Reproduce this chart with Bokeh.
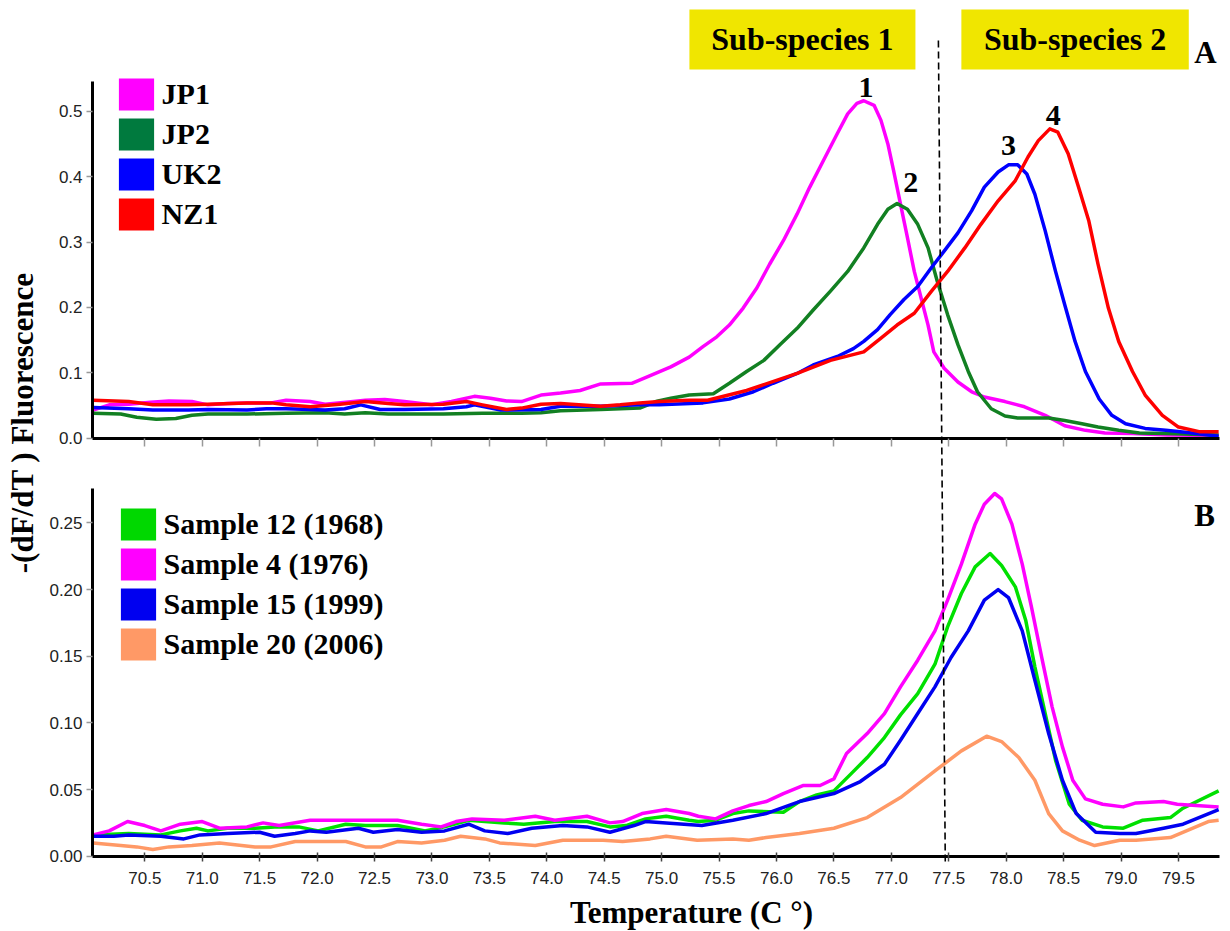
import math
from bokeh.plotting import figure
from bokeh.models import (Range1d, LinearAxis, FixedTicker, PrintfTickFormatter,
                          Legend, LegendItem, Label, BoxAnnotation)
from bokeh.core.properties import value
from bokeh.embed import file_html
from bokeh.resources import INLINE

# ---------------- data ----------------
# Panel A (top)
jp1_T = [70.05, 70.19, 70.36, 70.55, 70.71, 70.91, 71.05, 71.22, 71.39, 71.6, 71.73, 71.94,
         72.07, 72.25, 72.42, 72.59, 72.76, 73.0, 73.17, 73.37, 73.51, 73.65, 73.78, 73.95,
         74.12, 74.29, 74.47, 74.74, 74.88, 75.08, 75.24, 75.36, 75.48, 75.59, 75.71, 75.83, 75.94,
         76.06, 76.18, 76.29, 76.41, 76.53, 76.62, 76.70, 76.76, 76.85, 76.91, 76.97,
         77.02, 77.08, 77.14, 77.20, 77.26, 77.32, 77.37, 77.46, 77.58, 77.70, 77.81, 77.99,
         78.16, 78.34, 78.51, 78.69, 78.86, 79.10, 79.40, 79.85]
jp1_v = [0.043, 0.051, 0.052, 0.055, 0.057, 0.056, 0.051, 0.053, 0.054, 0.054, 0.058, 0.056,
         0.052, 0.055, 0.058, 0.059, 0.056, 0.051, 0.056, 0.064, 0.061, 0.057, 0.056, 0.066,
         0.069, 0.073, 0.083, 0.084, 0.094, 0.109, 0.124, 0.140, 0.155, 0.173, 0.199, 0.230, 0.266,
         0.302, 0.343, 0.384, 0.425, 0.466, 0.496, 0.512, 0.516, 0.509, 0.486, 0.450,
         0.409, 0.358, 0.307, 0.255, 0.214, 0.173, 0.132, 0.107, 0.086, 0.071, 0.063, 0.056,
         0.048, 0.035, 0.019, 0.012, 0.008, 0.007, 0.005, 0.004]

jp2_T = [70.05, 70.29, 70.43, 70.6, 70.77, 70.91, 71.05, 71.39, 71.73, 72.07, 72.24, 72.42,
         72.62, 72.76, 73.1, 73.44, 73.78, 73.95, 74.12, 74.47, 74.81, 74.95, 75.08, 75.24,
         75.45, 75.59, 75.74, 75.89, 76.03, 76.18, 76.32, 76.47, 76.62, 76.76, 76.88, 76.97,
         77.05, 77.14, 77.23, 77.32, 77.40, 77.49, 77.58, 77.67, 77.75, 77.87, 77.99,
         78.10, 78.37, 78.51, 78.66, 78.80, 78.98, 79.16, 79.39, 79.85]
jp2_v = [0.038, 0.037, 0.032, 0.029, 0.030, 0.035, 0.037, 0.037, 0.038, 0.039, 0.037, 0.039,
         0.037, 0.037, 0.037, 0.038, 0.038, 0.039, 0.042, 0.044, 0.046, 0.056, 0.061, 0.066,
         0.068, 0.084, 0.102, 0.119, 0.143, 0.168, 0.196, 0.225, 0.255, 0.291, 0.327, 0.350,
         0.359, 0.350, 0.327, 0.291, 0.240, 0.189, 0.143, 0.102, 0.071, 0.045, 0.034,
         0.031, 0.031, 0.027, 0.022, 0.017, 0.012, 0.008, 0.007, 0.005]

uk2_T = [70.05, 70.36, 70.57, 70.88, 71.05, 71.39, 71.56, 71.73, 72.07, 72.24, 72.38, 72.55,
         72.76, 73.1, 73.3, 73.37, 73.6, 73.95, 74.12, 74.47, 74.81, 74.98, 75.36, 75.59,
         75.80, 75.97, 76.18, 76.32, 76.53, 76.67, 76.76, 76.88, 76.99, 77.11, 77.23, 77.35,
         77.46, 77.58, 77.70, 77.81, 77.93, 78.02, 78.10, 78.18, 78.25, 78.34, 78.43, 78.51,
         78.60, 78.69, 78.81, 78.92, 79.04, 79.21, 79.39, 79.62, 79.85]
uk2_v = [0.047, 0.045, 0.043, 0.043, 0.044, 0.043, 0.045, 0.045, 0.043, 0.045, 0.051, 0.044,
         0.044, 0.045, 0.048, 0.051, 0.043, 0.044, 0.049, 0.049, 0.051, 0.051, 0.054, 0.060,
         0.071, 0.084, 0.099, 0.112, 0.125, 0.137, 0.148, 0.166, 0.189, 0.212, 0.232, 0.261,
         0.286, 0.314, 0.348, 0.384, 0.407, 0.418, 0.418, 0.404, 0.373, 0.317, 0.255, 0.204,
         0.148, 0.102, 0.060, 0.035, 0.022, 0.015, 0.012, 0.008, 0.003]

nz1_T = [70.05, 70.36, 70.57, 70.88, 71.05, 71.39, 71.6, 71.73, 71.94, 72.2, 72.42, 72.62,
         72.76, 73.1, 73.3, 73.44, 73.65, 73.78, 73.95, 74.12, 74.47, 74.64, 74.81, 74.98,
         75.24, 75.40, 75.74, 76.18, 76.47, 76.76, 76.91, 77.05, 77.20, 77.35, 77.49, 77.64,
         77.78, 77.93, 78.08, 78.19, 78.28, 78.38, 78.45, 78.54, 78.63, 78.72, 78.80, 78.89,
         78.98, 79.10, 79.21, 79.36, 79.50, 79.68, 79.85]
nz1_v = [0.058, 0.056, 0.051, 0.051, 0.052, 0.054, 0.054, 0.051, 0.048, 0.052, 0.056, 0.053,
         0.051, 0.052, 0.056, 0.051, 0.044, 0.046, 0.052, 0.053, 0.049, 0.051, 0.054, 0.056,
         0.058, 0.058, 0.073, 0.099, 0.119, 0.132, 0.153, 0.173, 0.191, 0.225, 0.255, 0.291,
         0.327, 0.363, 0.394, 0.430, 0.455, 0.473, 0.468, 0.435, 0.384, 0.332, 0.266, 0.199,
         0.148, 0.102, 0.066, 0.035, 0.017, 0.010, 0.010]

# Panel B (bottom)
s12_T = [70.05, 70.36, 70.64, 70.81, 70.95, 71.05, 71.22, 71.46, 71.63, 71.84, 72.01, 72.25,
         72.42, 72.70, 72.94, 73.11, 73.32, 73.63, 73.80, 74.07, 74.35, 74.55, 74.69, 74.86,
         75.04, 75.24, 75.32, 75.47, 75.62, 75.76, 76.06, 76.20, 76.35, 76.50, 76.64, 76.79,
         76.94, 77.08, 77.23, 77.38, 77.49, 77.61, 77.73, 77.86, 77.96, 78.08, 78.17, 78.25,
         78.34, 78.43, 78.55, 78.66, 78.84, 79.02, 79.19, 79.43, 79.54, 79.85]
s12_v = [0.016, 0.017, 0.016, 0.019, 0.021, 0.019, 0.021, 0.021, 0.022, 0.022, 0.019, 0.024,
         0.023, 0.023, 0.019, 0.022, 0.027, 0.025, 0.024, 0.026, 0.026, 0.022, 0.023, 0.028,
         0.030, 0.027, 0.026, 0.027, 0.032, 0.034, 0.033, 0.041, 0.046, 0.049, 0.061, 0.074,
         0.089, 0.106, 0.122, 0.144, 0.172, 0.197, 0.217, 0.227, 0.218, 0.202, 0.177, 0.142,
         0.107, 0.072, 0.039, 0.027, 0.022, 0.021, 0.027, 0.029, 0.036, 0.049]

s4_T = [70.05, 70.19, 70.35, 70.5, 70.64, 70.81, 71.0, 71.15, 71.39, 71.53, 71.67, 71.94,
        72.42, 72.70, 72.91, 73.08, 73.21, 73.35, 73.63, 73.90, 74.07, 74.35, 74.55, 74.66,
        74.83, 75.04, 75.24, 75.32, 75.47, 75.62, 75.76, 75.91, 76.06, 76.23, 76.38, 76.50,
        76.61, 76.79, 76.94, 77.08, 77.23, 77.38, 77.49, 77.61, 77.73, 77.81, 77.90, 77.96,
        78.05, 78.14, 78.22, 78.31, 78.40, 78.49, 78.58, 78.69, 78.84, 79.02, 79.13, 79.37,
        79.49, 79.85]
s4_v = [0.016, 0.019, 0.026, 0.023, 0.019, 0.024, 0.026, 0.021, 0.022, 0.025, 0.023, 0.027,
        0.027, 0.027, 0.024, 0.022, 0.026, 0.028, 0.027, 0.030, 0.027, 0.030, 0.025, 0.026,
        0.032, 0.035, 0.032, 0.030, 0.028, 0.034, 0.038, 0.041, 0.047, 0.053, 0.053, 0.058,
        0.077, 0.092, 0.107, 0.127, 0.147, 0.169, 0.192, 0.219, 0.249, 0.264, 0.272, 0.268,
        0.249, 0.219, 0.187, 0.149, 0.112, 0.082, 0.057, 0.043, 0.039, 0.037, 0.040, 0.041,
        0.039, 0.037]

s15_T = [70.05, 70.23, 70.36, 70.64, 70.84, 70.98, 71.22, 71.50, 71.63, 71.81, 71.94, 72.08,
         72.36, 72.49, 72.70, 72.91, 73.11, 73.32, 73.46, 73.66, 73.87, 74.14, 74.35, 74.55,
         74.76, 74.86, 75.04, 75.35, 75.62, 75.91, 76.20, 76.50, 76.73, 76.94, 77.08, 77.23,
         77.38, 77.52, 77.67, 77.81, 77.93, 78.02, 78.14, 78.25, 78.37, 78.49, 78.61, 78.78,
         78.99, 79.13, 79.37, 79.54, 79.85]
s15_v = [0.015, 0.015, 0.016, 0.015, 0.013, 0.016, 0.017, 0.018, 0.015, 0.017, 0.019, 0.018,
         0.021, 0.018, 0.020, 0.018, 0.019, 0.024, 0.019, 0.017, 0.021, 0.023, 0.022, 0.018,
         0.023, 0.026, 0.025, 0.023, 0.027, 0.032, 0.041, 0.047, 0.056, 0.069, 0.087, 0.107,
         0.127, 0.149, 0.169, 0.192, 0.200, 0.194, 0.169, 0.132, 0.092, 0.057, 0.032, 0.018,
         0.017, 0.017, 0.021, 0.024, 0.035]

s20_T = [70.05, 70.29, 70.43, 70.57, 70.71, 70.91, 71.15, 71.46, 71.60, 71.81, 72.01, 72.25,
         72.42, 72.56, 72.70, 72.91, 73.11, 73.25, 73.46, 73.59, 73.90, 74.14, 74.49, 74.66,
         74.90, 75.04, 75.31, 75.62, 75.76, 75.91, 76.20, 76.50, 76.79, 77.08, 77.38, 77.61,
         77.83, 77.96, 78.11, 78.25, 78.37, 78.49, 78.64, 78.77, 78.99, 79.13, 79.43, 79.76,
         79.85]
s20_v = [0.010, 0.008, 0.007, 0.005, 0.007, 0.008, 0.010, 0.007, 0.007, 0.011, 0.011, 0.011,
         0.007, 0.007, 0.011, 0.010, 0.012, 0.015, 0.013, 0.010, 0.008, 0.012, 0.012, 0.011,
         0.013, 0.015, 0.012, 0.013, 0.012, 0.014, 0.017, 0.021, 0.029, 0.044, 0.064, 0.079,
         0.090, 0.086, 0.074, 0.057, 0.032, 0.019, 0.012, 0.008, 0.012, 0.012, 0.014, 0.026,
         0.027]

top_names = ["JP1", "JP2", "UK2", "NZ1"]
top_line_colors = ["#FF00FF", "#128022", "#0000FF", "#FF0000"]
top_swatch_colors = ["#FF00FF", "#007A3E", "#0000FF", "#FF0000"]
bot_names = ["Sample 12 (1968)", "Sample 4 (1976)", "Sample 15 (1999)", "Sample 20 (2006)"]
bot_line_colors = ["#00E000", "#FF00FF", "#0000F0", "#FF9966"]
bot_swatch_colors = ["#00D800", "#FF00FF", "#0000F0", "#FF9966"]

peak_T = [76.78, 77.17, 78.02, 78.41]
peak_v = [0.537, 0.391, 0.447, 0.493]
peak_txt = ["1", "2", "3", "4"]

x_ticks = [70.5, 71.0, 71.5, 72.0, 72.5, 73.0, 73.5, 74.0, 74.5, 75.0,
           75.5, 76.0, 76.5, 77.0, 77.5, 78.0, 78.5, 79.0, 79.5]
top_y_ticks = [0.0, 0.1, 0.2, 0.3, 0.4, 0.5]
bot_y_ticks = [0.0, 0.05, 0.10, 0.15, 0.20, 0.25]

divider_T = (77.41, 77.47)
subspecies = ["Sub-species 1", "Sub-species 2"]
sub_box_T = [(75.242, 77.21), (77.61, 79.59)]

# ---------------- layout constants ----------------
# the frame covers the whole canvas; axes sit at fixed data locations
W, H = 1228, 930
x_axis_lo, x_axis_hi = 70.045, 79.855          # drawn extent of the temperature axis
view_x = (69.2436, 79.9359)                     # whole canvas width
view_bot = (-0.0557, 0.6417)                   # panel B scale over whole canvas
view_top = (-0.7528, 0.6693)                   # panel A scale over whole canvas
bot_axis_top = 0.2755
top_axis_top = 0.546

SERIF = "Liberation Serif"
SANS = "Liberation Sans"

p = figure(width=W, height=H, output_backend="svg", toolbar_location=None,
           x_range=Range1d(*view_x), y_range=Range1d(*view_bot),
           min_border=0, min_border_left=0, min_border_right=0,
           min_border_top=0, min_border_bottom=0,
           background_fill_color="white", border_fill_color="white")
p.extra_y_ranges = {"top": Range1d(*view_top)}
p.grid.visible = False
p.outline_line_color = None


def style_axis(ax, tick_color):
    ax.axis_line_width = 3
    ax.axis_line_color = "black"
    ax.major_tick_line_color = tick_color
    ax.major_tick_line_width = 1.5
    ax.minor_tick_line_color = None
    ax.major_label_text_font = SANS
    ax.major_label_text_font_size = "17px"
    ax.major_label_text_color = "#222222"


# bottom x axis (panel B)
xa = p.xaxis[0]
xa.fixed_location = 0
xa.bounds = (x_axis_lo, x_axis_hi)
xa.ticker = FixedTicker(ticks=x_ticks)
xa.formatter = PrintfTickFormatter(format="%.1f")
style_axis(xa, "#444444")
xa.major_tick_out = 5
xa.major_tick_in = 4
xa.major_label_standoff = 11

# y axis (panel B)
ya = p.yaxis[0]
ya.fixed_location = x_axis_lo
ya.bounds = (0, bot_axis_top)
ya.ticker = FixedTicker(ticks=bot_y_ticks)
ya.formatter = PrintfTickFormatter(format="%.2f")
style_axis(ya, "#999999")
ya.major_tick_out = 6
ya.major_tick_in = 0
ya.major_label_standoff = 4

# y axis (panel A)
ya_top = LinearAxis(y_range_name="top", fixed_location=x_axis_lo, bounds=(0, top_axis_top),
                    ticker=FixedTicker(ticks=top_y_ticks),
                    formatter=PrintfTickFormatter(format="%.1f"))
style_axis(ya_top, "#999999")
ya_top.major_tick_out = 6
ya_top.major_tick_in = 0
ya_top.major_label_standoff = 4
p.add_layout(ya_top, "left")

# x axis (panel A, no labels)
xa_top = LinearAxis(y_range_name="top", fixed_location=0, bounds=(x_axis_lo, x_axis_hi),
                    ticker=FixedTicker(ticks=x_ticks),
                    major_label_overrides={t: "" for t in x_ticks})
style_axis(xa_top, "#999999")
xa_top.major_tick_out = 8
xa_top.major_tick_in = 0
p.add_layout(xa_top, "below")

# header boxes
for (l, r) in sub_box_T:
    p.add_layout(BoxAnnotation(left=l, right=r, bottom=0.5638, top=0.6555, y_range_name="top",
                               fill_color="#F0E600", fill_alpha=1.0, line_color=None))
for name, (l, r) in zip(subspecies, sub_box_T):
    p.add_layout(Label(x=(l + r) / 2, y=0.6105, y_range_name="top", text=name,
                       text_font=SERIF, text_font_style="bold", text_font_size="32px",
                       text_align="center", text_baseline="middle", text_color="black"))

# curves panel A
for T, v, c in zip([jp1_T, jp2_T, uk2_T, nz1_T], [jp1_v, jp2_v, uk2_v, nz1_v], top_line_colors):
    p.line(T, v, y_range_name="top", line_color=c, line_width=3.5, line_join="round")

# curves panel B
for T, v, c in zip([s12_T, s4_T, s15_T, s20_T], [s12_v, s4_v, s15_v, s20_v], bot_line_colors):
    p.line(T, v, line_color=c, line_width=3.5, line_join="round")

# peak numbers
p.text(x=peak_T, y=peak_v, text=peak_txt, y_range_name="top",
       text_font=value(SERIF), text_font_style="bold", text_font_size=value("30px"),
       text_align="center", text_baseline="middle", text_color="black")

# dashed divider
p.segment(x0=[divider_T[0]], y0=[0.6117], x1=[divider_T[1]], y1=[-0.005],
          line_color="black", line_width=1.6, line_dash="7 4")

# panel letters
p.add_layout(Label(x=79.735, y=0.5898, y_range_name="top", text="A", text_font=SERIF,
                   text_font_style="bold", text_font_size="31px", text_align="center",
                   text_baseline="middle", text_color="black"))
p.add_layout(Label(x=79.727, y=0.2555, text="B", text_font=SERIF,
                   text_font_style="bold", text_font_size="31px", text_align="center",
                   text_baseline="middle", text_color="black"))


# legends with square swatches (zero-area anchor glyphs, only their legend boxes show)
def swatch(color):
    return p.quad(left=[x_axis_lo], right=[x_axis_lo], top=[0], bottom=[0],
                  fill_color=color, line_color=None)


def make_legend(names, colors, loc):
    items = [LegendItem(label=n, renderers=[swatch(c)]) for n, c in zip(names, colors)]
    return Legend(items=items, location=loc, orientation="vertical",
                  glyph_width=44, glyph_height=40, label_standoff=4, spacing=0,
                  padding=0, margin=0, border_line_color=None, background_fill_alpha=0,
                  label_text_font=SERIF, label_text_font_style="bold",
                  label_text_font_size="30px", label_text_color="black")


p.add_layout(make_legend(top_names, top_swatch_colors, (113.6, 696)))
p.add_layout(make_legend(bot_names, bot_swatch_colors, (115.6, 266)))

# axis titles
p.add_layout(Label(x=69.435, y=0.325, text="-(dF/dT ) Fluorescence", angle=math.pi / 2,
                   text_font=SERIF, text_font_style="bold", text_font_size="31px",
                   text_align="center", text_baseline="middle", text_color="black"))
p.add_layout(Label(x=75.26, y=-0.0422, text="Temperature (C \u00b0)",
                   text_font=SERIF, text_font_style="bold", text_font_size="31px",
                   text_align="center", text_baseline="middle", text_color="black"))

open("out.html", "w").write(file_html(p, INLINE))
